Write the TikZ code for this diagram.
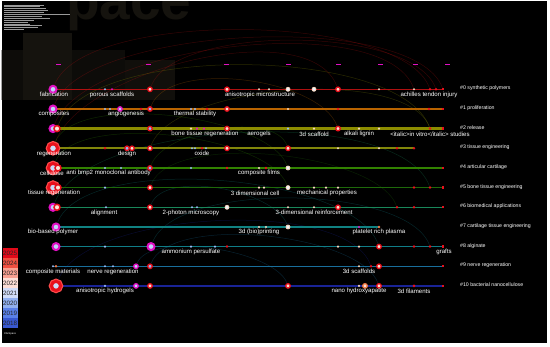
\documentclass[tikz,border=0pt]{standalone}
\usepackage{fontspec}
\setmainfont{Liberation Sans}
\usetikzlibrary{positioning}
\pgfdeclarelayer{back}
\pgfsetlayers{back,main}
\definecolor{hotred}{RGB}{232,16,28}
\definecolor{hotmag}{RGB}{226,16,196}
\definecolor{paleblue}{RGB}{150,185,240}
\definecolor{paleskin}{RGB}{246,214,190}
\definecolor{hotorange}{RGB}{240,120,70}
\definecolor{dimink}{RGB}{21,19,14}
\definecolor{dimgrey}{RGB}{13,12,9}
\definecolor{tl0}{RGB}{175,16,16}
\definecolor{tl1}{RGB}{185,100,0}
\definecolor{tl2}{RGB}{140,140,0}
\definecolor{tl3}{RGB}{130,135,10}
\definecolor{tl4}{RGB}{50,130,0}
\definecolor{tl5}{RGB}{30,105,10}
\definecolor{tl6}{RGB}{25,135,90}
\definecolor{tl7}{RGB}{16,130,130}
\definecolor{tl8}{RGB}{16,125,135}
\definecolor{tl9}{RGB}{25,110,155}
\definecolor{tl10}{RGB}{25,35,150}
\definecolor{lg1}{RGB}{225,10,25}
\definecolor{lg2}{RGB}{240,80,65}
\definecolor{lg3}{RGB}{248,160,145}
\definecolor{lg4}{RGB}{252,222,214}
\definecolor{lg5}{RGB}{208,220,248}
\definecolor{lg6}{RGB}{145,176,240}
\definecolor{lg7}{RGB}{90,128,232}
\definecolor{lg8}{RGB}{56,88,208}

\begin{document}
\begin{tikzpicture}[x=1pt,y=-1pt,font=\fontsize{6.1}{7}\selectfont,
  tline/.style={line width=1.3pt},
  link/.style={draw=#1,line width=0.5pt,opacity=0.3},
  dot/.style={circle,inner sep=0pt,minimum size=2.4pt},
  sb/.style={dot,fill=paleblue},
  sw/.style={dot,fill=paleskin},
  sr/.style={dot,fill=hotred,minimum size=2.8pt},
  sm/.style={dot,fill=hotmag},
  so/.style={dot,fill=hotorange,minimum size=2.8pt},
  se/.style={rectangle,inner sep=0pt,minimum size=2.4pt,fill=hotred},
  rr/.style={dot,fill=paleskin!70!white,draw=hotred,line width=1.3pt,minimum size=4.5pt},
  rb/.style={rr,fill=paleblue},
  rm/.style={rr,fill=paleblue!60!white,draw=hotmag},
  ro/.style={rr,draw=hotorange},
  rp/.style={dot,fill=white!85!paleblue,draw=paleskin,line width=0.8pt,minimum size=4pt},
  hm/.style={dot,fill=paleblue!60!white,draw=hotmag,line width=2pt,minimum size=7pt},
  hr/.style={dot,fill=paleskin!60!white,draw=hotred,line width=1.5pt,minimum size=6pt},
  hb/.style={dot,fill=paleblue!50!white,draw=hotred,line width=3pt,minimum size=9pt,
    preaction={draw=red!70!white,line width=5.4pt}},
  lbl/.style={text=white,inner sep=0pt},
  clab/.style={text=white,anchor=west,inner sep=0pt,font=\fontsize{5.2}{6}\selectfont},
  yr/.style={rectangle,fill=hotmag,inner sep=0pt,minimum width=5pt,minimum height=1.6pt}]

\useasboundingbox (0,0) rectangle (550,347);

% dark canvas, faint watermark and the header block
\begin{pgfonlayer}{back}
\fill[white] (0,0) rectangle (550,347);
\fill[black] (1.5,1.5) rectangle (546.5,343.5);
\begin{scope}
\clip (1.5,1.5) rectangle (546.5,343.5);
\fill[dimgrey] (0,50) rectangle (23,100);
\fill[dimink] (23,33) rectangle (72,100);
\fill[dimgrey] (72,50) rectangle (125,100);
\fill[dimink!80!black] (125,60) rectangle (175,100);
\node[anchor=base west,text=dimink,inner sep=0pt,font=\bfseries\fontsize{55}{55}\selectfont]
  (mark) at (66,20) {pace};
\end{scope}
\foreach \w [count=\k] in {40,36,42,44,40,66,38,46,30,24,26,38,34,20}
  \draw[black!40!white,line width=0.6pt] (4,{3+1.9*\k}) -- ++(\w,0);
\end{pgfonlayer}

% year columns
\foreach \x [count=\k] in {58,148,226,288,338,380,415,447}
  \node[yr] (t\k) at (\x,64.7) {};

% timelines, one per cluster
\foreach \r/\y/\xa/\xb/\w in {0/89.3/53/443/1.3,1/109.0/53/443/1.3,2/128.6/53/443/2.2,
  3/148.3/53/414/1.6,4/168.0/53/443/1.6,5/187.6/53/443/1.6,6/207.3/53/443/1.3,
  7/227.0/56/379/1.6,8/246.6/56/443/1.6,9/266.3/53/443/1.3,10/285.9/56/443/1.3} {
  \coordinate (a\r) at (\xa,\y);
  \coordinate (b\r) at (\xb,\y);
  \draw[tline,draw=tl\r,line width=\w pt] (a\r) -- (b\r);
}

% cited references on each line
\foreach \x/\s [count=\i] in {53/hm,105/sb,112/sm,150/rr,227/rr,259/sw,269/sw,288/rp,
  314/rp,338/rr,379/sw,414/sw,430/sr,436/sr,443/se}
  \node[style=\s] (n0-\i) at (\x,89.3) {};
\foreach \x/\s [count=\i] in {53/hm,105/sb,110/sb,120/rm,141/sr,150/rb,191/sb,195/sb,
  207/sr,227/rr,288/sw,338/sr,429/sr,443/se}
  \node[style=\s] (n1-\i) at (\x,109.0) {};
\foreach \x/\s [count=\i] in {53/hm,57/hr,150/rb,191/sw,197/sm,204/sm,227/rr,288/sb,
  314/sw,338/rr,359/sw,379/sw,430/sr,443/se}
  \node[style=\s] (n2-\i) at (\x,128.6) {};
\foreach \x/\s [count=\i] in {53/hb,105/sr,127/rb,132/rr,150/rr,192/sb,195/sb,202/sr,
  206/sb,227/rr,288/rr,338/sw,379/sw,397/sr,414/sr}
  \node[style=\s] (n3-\i) at (\x,148.3) {};
\foreach \x/\s [count=\i] in {53/hb,58/hr,105/sb,121/sb,150/rb,191/sb,227/sr,259/sw,
  266/sr,288/rp,443/se}
  \node[style=\s] (n4-\i) at (\x,168.0) {};
\foreach \x/\s [count=\i] in {53/hb,58/hr,105/sb,150/rr,259/sw,264/sw,288/rp,314/sw,
  326/sw,338/sw,414/sr,430/sr,443/se}
  \node[style=\s] (n5-\i) at (\x,187.6) {};
\foreach \x/\s [count=\i] in {53/hm,57/hr,106/sb,150/rr,192/sb,197/sb,227/rp,288/sw,
  314/sw,338/rr,397/sr,414/sr,443/se}
  \node[style=\s] (n6-\i) at (\x,207.3) {};
\foreach \x/\s [count=\i] in {56/hm,259/sw,266/sw,288/rp,359/sm,379/so}
  \node[style=\s] (n7-\i) at (\x,227.0) {};
\foreach \x/\s [count=\i] in {56/hm,105/sb,151/hm,191/sb,215/sb,227/sr,338/sw,359/sw,
  379/rr,414/sr,430/sr,443/se}
  \node[style=\s] (n8-\i) at (\x,246.6) {};
\foreach \x/\s [count=\i] in {53/sb,56/so,105/sb,113/sb,136/rm,150/rb,359/sw,371/sr,
  379/rr,443/se}
  \node[style=\s] (n9-\i) at (\x,266.3) {};
\foreach \x/\s [count=\i] in {56/hb,105/sb,136/rm,150/rr,288/rr,359/sw,365/ro,379/rr,
  414/sr,443/se}
  \node[style=\s] (n10-\i) at (\x,285.9) {};

% co-citation arcs, kept behind the lines
\begin{pgfonlayer}{back}
\draw[link=tl0,looseness=0.55] (n0-1) to[out=70,in=110] (n0-13);
\draw[link=tl0,looseness=0.6] (n0-4) to[out=70,in=110] (n0-14);
\draw[link=tl0,looseness=0.6] (n2-1) to[out=70,in=110] (n0-12);
\draw[link=tl0,looseness=0.7] (n3-1) to[out=70,in=110] (n0-10);
\draw[link=tl0,looseness=0.55] (n1-1) to[out=70,in=110] (n0-15);
\draw[link=tl1,looseness=0.7] (n1-6) to[out=70,in=110] (n2-10);
\draw[link=tl2,looseness=0.6] (n2-2) to[out=70,in=110] (n2-13);
\draw[link=tl3,looseness=0.6] (n3-5) to[out=70,in=110] (n2-13);
\draw[link=tl4,looseness=0.6] (n3-1) to[out=70,in=110] (n4-10);
\draw[link=tl4,looseness=0.6] (n4-1) to[out=70,in=110] (n5-7);
\draw[link=tl5,looseness=0.6] (n5-4) to[out=70,in=110] (n6-11);
\draw[link=tl4,looseness=0.7] (n4-5) to[out=70,in=110] (n3-11);
\draw[link=tl6,looseness=0.6] (n6-1) to[out=70,in=110] (n5-12);
\draw[link=tl7,looseness=0.7] (n6-4) to[out=70,in=110] (n7-4);
\draw[link=tl7,looseness=0.6] (n7-1) to[out=70,in=110] (n8-9);
\draw[link=tl8,looseness=0.6] (n8-3) to[out=70,in=110] (n8-11);
\draw[link=tl9,looseness=0.6] (n9-6) to[out=70,in=110] (n10-8);
\draw[link=tl10,looseness=0.6] (n10-1) to[out=70,in=110] (n9-8);
\draw[link=tl9,looseness=0.6] (n9-5) to[out=70,in=110] (n10-5);
\end{pgfonlayer}

% reference labels under the lines
\node[lbl] (l0a) at (54,94.6) {fabrication};
\node[lbl] (l0b) at (112,94.6) {porous scaffolds};
\node[lbl] (l0c) at (260,94.6) {anisotropic microstructure};
\node[lbl] (l0d) at (429,94.6) {achilles tendon injury};
\node[lbl] (l1a) at (54,114.3) {composites};
\node[lbl] (l1b) at (126,114.3) {angiogenesis};
\node[lbl] (l1c) at (195,114.3) {thermal stability};
\node[lbl] (l2a) at (205,133.9) {bone tissue regeneration};
\node[lbl] (l2b) at (259,133.9) {aerogels};
\node[lbl] (l2c) at (314,133.9) {3d scaffold};
\node[lbl] (l2d) at (359,133.9) {alkali lignin};
\node[lbl] (l2e) at (430,133.9) {<italic>in vitro</italic> studies};
\node[lbl] (l3a) at (54,153.6) {regeneration};
\node[lbl] (l3b) at (127,153.6) {design};
\node[lbl] (l3c) at (202,153.6) {oxide};
\node[lbl] (l4a) at (52,173.3) {cellulose};
\node[lbl] (l4b) at (108.5,173.3) {anti bmp2 monoclonal antibody};
\node[lbl] (l4c) at (259,173.3) {composite films};
\node[lbl] (l5a) at (54,192.9) {tissue regeneration};
\node[lbl] (l5b) at (255,192.9) {3 dimensional cell};
\node[lbl] (l5c) at (327,192.9) {mechanical properties};
\node[lbl] (l6a) at (104,212.6) {alignment};
\node[lbl] (l6b) at (191,212.6) {2-photon microscopy};
\node[lbl] (l6c) at (314,212.6) {3-dimensional reinforcement};
\node[lbl] (l7a) at (53,232.3) {bio-based polymer};
\node[lbl] (l7b) at (259,232.3) {3d (bio)printing};
\node[lbl] (l7c) at (379,232.3) {platelet rich plasma};
\node[lbl] (l8a) at (191,251.9) {ammonium persulfate};
\node[lbl] (l8b) at (444,251.9) {grafts};
\node[lbl] (l9a) at (53,271.6) {composite materials};
\node[lbl] (l9b) at (113,271.6) {nerve regeneration};
\node[lbl] (l9c) at (359,271.6) {3d scaffolds};
\node[lbl] (l10a) at (105,291.2) {anisotropic hydrogels};
\node[lbl] (l10b) at (359,291.2) {nano hydroxyapatite};
\node[lbl] (l10c) at (414,291.2) {3d filaments};

% cluster names at the right
\foreach \r/\y/\t in {0/89.3/{\#0 synthetic polymers},1/109.0/{\#1 proliferation},
  2/128.6/{\#2 release},3/148.3/{\#3 tissue engineering},4/168.0/{\#4 articular cartilage},
  5/187.6/{\#5 bone tissue engineering},6/207.3/{\#6 biomedical applications},
  7/227.0/{\#7 cartilage tissue engineering},8/246.6/{\#8 alginate},
  9/266.3/{\#9 nerve regeneration},10/285.9/{\#10 bacterial nanocellulose}}
  \node[clab] (c\r) at (460,\y-0.8) {\t};

% year legend
\begin{scope}
\clip (3,248) rectangle (18,328);
\foreach \c/\yr [count=\k] in {lg1/2025,lg2/2024,lg3/2023,lg4/2022,lg5/2021,
  lg6/2020,lg7/2019,lg8/2018} {
  \fill[\c] (3,{238+10*\k}) rectangle (18,{248+10*\k});
  \node[anchor=west,inner sep=0pt,text=black!85,font=\fontsize{6.3}{7}\selectfont]
    (g\k) at (3,{243+10*\k}) {\yr};
}
\end{scope}
\node[text=white,inner sep=0pt,font=\fontsize{2.6}{3}\selectfont] (logo) at (10,334) {CiteSpace};
\end{tikzpicture}
\end{document}
